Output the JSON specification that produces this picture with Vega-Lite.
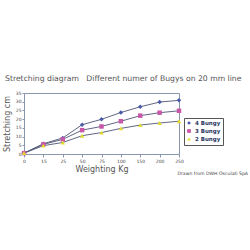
{
  "$schema": "https://vega.github.io/schema/vega-lite/v6.json",
  "autosize": "none",
  "width": 155,
  "height": 61,
  "padding": {"left": 24, "top": 93, "right": 71, "bottom": 96},
  "background": "white",
  "title": {
    "text": "Stretching diagram\u00a0\u00a0\u00a0Different numer of Bugys on 20 mm line",
    "anchor": "start",
    "frame": "group",
    "dx": -19,
    "offset": 7,
    "font": "DejaVu Sans",
    "fontSize": 7.7,
    "fontWeight": "normal",
    "color": "#555555"
  },
  "config": {
    "view": {"stroke": "#8a96ae", "strokeWidth": 1},
    "axis": {"labelFont": "DejaVu Sans", "titleFont": "DejaVu Sans", "labelColor": "#444444", "titleColor": "#555555", "domainColor": "#8a96ae", "tickColor": "#8a96ae", "grid": false}
  },
  "data": {
    "values": [
      {"w": "0", "s": "4 Bungy", "v": 0.5}, {"w": "15", "s": "4 Bungy", "v": 5.9}, {"w": "25", "s": "4 Bungy", "v": 9.2}, {"w": "50", "s": "4 Bungy", "v": 16.8}, {"w": "75", "s": "4 Bungy", "v": 19.9}, {"w": "100", "s": "4 Bungy", "v": 23.8}, {"w": "150", "s": "4 Bungy", "v": 27.1}, {"w": "200", "s": "4 Bungy", "v": 29.8}, {"w": "250", "s": "4 Bungy", "v": 30.8},
      {"w": "0", "s": "3 Bungy", "v": 0.5}, {"w": "15", "s": "3 Bungy", "v": 5.5}, {"w": "25", "s": "3 Bungy", "v": 8.4}, {"w": "50", "s": "3 Bungy", "v": 13.7}, {"w": "75", "s": "3 Bungy", "v": 15.8}, {"w": "100", "s": "3 Bungy", "v": 18.8}, {"w": "150", "s": "3 Bungy", "v": 22.0}, {"w": "200", "s": "3 Bungy", "v": 23.7}, {"w": "250", "s": "3 Bungy", "v": 24.8},
      {"w": "0", "s": "2 Bungy", "v": 0.5}, {"w": "15", "s": "2 Bungy", "v": 4.8}, {"w": "25", "s": "2 Bungy", "v": 6.6}, {"w": "50", "s": "2 Bungy", "v": 10.5}, {"w": "75", "s": "2 Bungy", "v": 12.3}, {"w": "100", "s": "2 Bungy", "v": 14.7}, {"w": "150", "s": "2 Bungy", "v": 16.6}, {"w": "200", "s": "2 Bungy", "v": 17.8}, {"w": "250", "s": "2 Bungy", "v": 18.8}
    ]
  },
  "encoding": {
    "x": {"field": "w", "type": "ordinal", "sort": ["0", "15", "25", "50", "75", "100", "150", "200", "250"],
      "scale": {"type": "point", "padding": 0},
      "axis": {"title": "Weighting Kg", "labelAngle": 0, "labelFontSize": 4.5, "tickSize": 3, "labelPadding": 1, "titleFontSize": 8, "titleFontWeight": "normal", "titlePadding": 3}},
    "y": {"field": "v", "type": "quantitative", "scale": {"domain": [0, 35], "nice": false},
      "axis": {"title": "Stretching cm", "values": [0, 5, 10, 15, 20, 25, 30, 35], "labelFontSize": 4.5, "tickSize": 2, "labelPadding": 1, "titleFontSize": 8, "titleFontWeight": "normal", "titlePadding": 4}}
  },
  "layer": [
    {
      "mark": {"type": "line", "strokeWidth": 0.9, "color": "#4f5675"},
      "encoding": {"detail": {"field": "s"}}
    },
    {
      "mark": {"type": "point", "filled": true, "size": 20, "opacity": 1},
      "encoding": {
        "color": {"field": "s", "type": "nominal", "scale": {"domain": ["4 Bungy", "3 Bungy", "2 Bungy"], "range": ["#4a5aa8", "#c857a8", "#e3dc30"]},
          "legend": {"title": null, "orient": "none", "legendX": 160, "legendY": 25, "strokeColor": "#555555", "padding": 2, "labelFont": "DejaVu Sans", "labelFontSize": 5.5, "labelFontWeight": "bold", "labelColor": "#2a3560", "symbolSize": 14, "rowPadding": 1, "labelOffset": 3}},
        "shape": {"field": "s", "type": "nominal", "scale": {"domain": ["4 Bungy", "3 Bungy", "2 Bungy"], "range": ["diamond", "square", "triangle-up"]},
          "legend": {"title": null, "orient": "none", "legendX": 160, "legendY": 25, "strokeColor": "#555555", "padding": 2, "labelFont": "DejaVu Sans", "labelFontSize": 5.5, "labelFontWeight": "bold", "labelColor": "#2a3560", "symbolSize": 14, "rowPadding": 1, "labelOffset": 3}}
      }
    },
    {
      "data": {"values": [{"w": "250", "v": 0, "note": "Drawn from DWH Osculati SpA"}]},
      "mark": {"type": "text", "align": "right", "baseline": "middle", "dx": 69, "dy": 20, "font": "DejaVu Sans", "fontSize": 4.6, "color": "#444444"},
      "encoding": {"text": {"field": "note", "type": "nominal"}}
    }
  ]
}
